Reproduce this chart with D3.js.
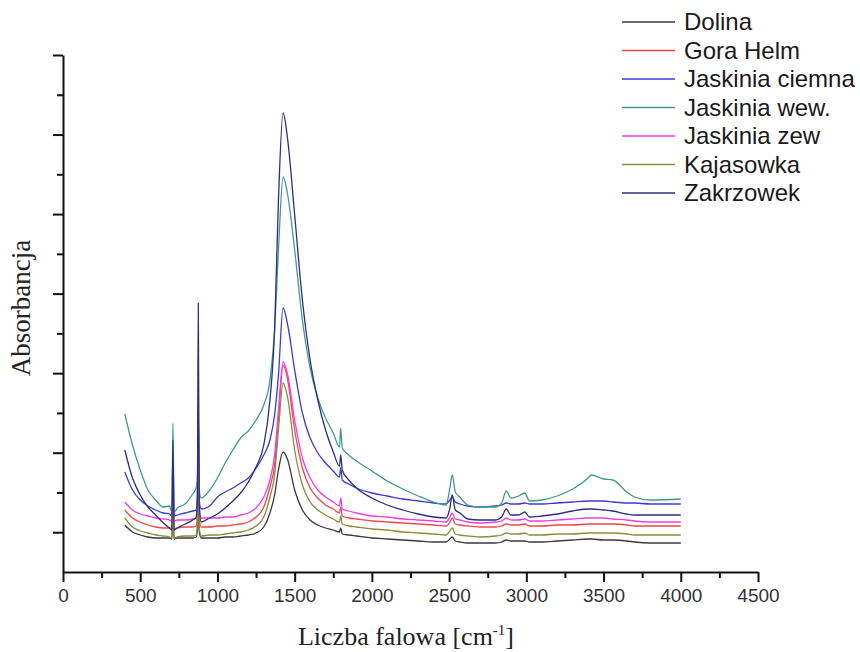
<!DOCTYPE html>
<html lang="en">
<head>
<meta charset="utf-8">
<title>Widma FTIR</title>
<script src="https://d3js.org/d3.v7.js"></script>
<style>
  body { margin: 0; background: #fff; }
  .tick text { font-family: "Liberation Sans", Arial, sans-serif; }
</style>
</head>
<body>
<svg></svg>
<script>
  // wavenumbers shared by all spectra [cm-1]
  const wavenumber = [400, 450, 500, 550, 600, 650, 690, 705, 712, 719,
    740, 790, 840, 862, 870, 876, 882, 895, 950, 1000,
    1050, 1100, 1150, 1200, 1250, 1300, 1340, 1370, 1395, 1425,
    1455, 1500, 1550, 1600, 1650, 1700, 1750, 1790, 1798, 1808,
    1850, 1900, 2000, 2100, 2200, 2300, 2400, 2480, 2505, 2520,
    2540, 2570, 2620, 2700, 2800, 2840, 2870, 2900, 2950, 2990,
    3020, 3100, 3200, 3300, 3400, 3420, 3500, 3560, 3650, 3700,
    3800, 4000];

  // absorbance (arbitrary units, no scale printed on the chart)
  const dolina = [.047, .040, .037, .035, .034, .034, .034, .033, .067, .033,
    .034, .034, .034, .035, .042, .092, .040, .034, .034, .034,
    .035, .035, .036, .037, .039, .045, .059, .077, .102, .120,
    .112, .082, .062, .052, .047, .044, .042, .040, .044, .038,
    .037, .036, .034, .033, .032, .031, .030, .030, .033, .035,
    .031, .030, .029, .029, .029, .030, .032, .031, .031, .031,
    .030, .030, .031, .032, .033, .033, .032, .032, .031, .030,
    .029, .029];
  const goraHelm = [.062, .054, .050, .047, .045, .044, .044, .043, .082, .043,
    .044, .045, .045, .046, .057, .117, .055, .045, .045, .046,
    .046, .047, .048, .050, .055, .065, .085, .107, .152, .207,
    .192, .142, .104, .084, .074, .067, .063, .059, .065, .056,
    .054, .053, .051, .050, .049, .048, .047, .046, .050, .054,
    .048, .047, .046, .045, .045, .046, .048, .047, .047, .048,
    .046, .046, .047, .047, .048, .048, .048, .048, .047, .046,
    .046, .046];
  const jaskiniaCiemna = [.100, .082, .072, .066, .062, .059, .058, .056, .122, .056,
    .057, .059, .061, .062, .077, .167, .072, .063, .066, .075,
    .080, .084, .089, .094, .104, .117, .132, .157, .197, .264,
    .247, .202, .159, .134, .119, .109, .101, .095, .104, .092,
    .088, .084, .079, .076, .073, .071, .069, .068, .072, .075,
    .070, .068, .066, .065, .066, .067, .069, .068, .068, .069,
    .068, .068, .069, .070, .071, .071, .071, .070, .069, .069,
    .068, .068];
  const jaskiniaWew = [.158, .127, .102, .082, .072, .065, .066, .060, .149, .060,
    .064, .068, .078, .084, .092, .152, .082, .074, .082, .094,
    .109, .122, .134, .141, .152, .167, .192, .242, .322, .395,
    .377, .322, .252, .204, .174, .154, .139, .125, .144, .124,
    .117, .111, .101, .091, .083, .076, .070, .067, .084, .097,
    .080, .075, .067, .065, .065, .069, .081, .074, .076, .079,
    .071, .072, .076, .083, .094, .097, .093, .092, .080, .075,
    .072, .073];
  const jaskiniaZew = [.070, .062, .058, .056, .054, .053, .052, .051, .092, .051,
    .052, .052, .053, .054, .067, .127, .064, .054, .054, .054,
    .055, .055, .057, .059, .064, .075, .092, .117, .162, .210,
    .197, .152, .114, .094, .082, .075, .070, .066, .074, .063,
    .061, .059, .056, .055, .053, .052, .051, .050, .055, .059,
    .053, .052, .050, .049, .050, .051, .054, .052, .052, .053,
    .051, .051, .052, .053, .054, .054, .054, .053, .052, .051,
    .050, .050];
  const kajasowka = [.054, .045, .041, .039, .037, .036, .035, .034, .072, .034,
    .035, .036, .036, .037, .047, .102, .045, .036, .037, .037,
    .038, .039, .040, .042, .046, .055, .075, .097, .142, .189,
    .174, .122, .087, .070, .062, .057, .053, .050, .056, .048,
    .046, .045, .043, .042, .040, .039, .038, .037, .041, .044,
    .038, .037, .036, .035, .036, .037, .039, .038, .038, .039,
    .037, .037, .038, .038, .039, .039, .039, .039, .038, .037,
    .037, .037];
  const zakrzowek = [.122, .094, .077, .065, .057, .049, .044, .042, .132, .042,
    .044, .048, .052, .055, .072, .269, .067, .050, .054, .058,
    .064, .071, .079, .090, .105, .127, .172, .242, .372, .459,
    .432, .357, .272, .212, .172, .142, .120, .106, .117, .102,
    .092, .084, .074, .067, .062, .058, .055, .054, .064, .077,
    .062, .059, .053, .052, .052, .055, .063, .057, .057, .060,
    .055, .056, .058, .061, .063, .063, .062, .061, .058, .057,
    .057, .057];

  const names = ["Dolina", "Gora Helm", "Jaskinia ciemna", "Jaskinia wew.",
    "Jaskinia zew", "Kajasowka", "Zakrzowek"];
  const values = [dolina, goraHelm, jaskiniaCiemna, jaskiniaWew,
    jaskiniaZew, kajasowka, zakrzowek];
  const colors = ["#3a3a3a", "#f0484a", "#3b3bd0", "#3f9a92",
    "#f03cf0", "#8c8c3c", "#2e2e80"];

  const xTicks = d3.range(0, 4501, 500);
  const yMax = 0.517;

  const w = 860;
  const h = 652;
  const margin = {top: 55, right: 102, bottom: 80, left: 63};

  const svg = d3.select("svg")
      .attr("width", w)
      .attr("height", h)
      .style("display", "block");

  const x = d3.scaleLinear()
      .domain([0, 4500])
      .range([margin.left, w - margin.right]);

  const y = d3.scaleLinear()
      .domain([0, yMax])
      .range([h - margin.bottom, margin.top]);

  // spectra
  const line = d3.line()
      .x(d => x(d[0]))
      .y(d => y(d[1]))
      .curve(d3.curveMonotoneX);

  const series = names.map((n, i) => ({
    name: n,
    color: colors[i],
    points: wavenumber.map((wn, j) => [wn, values[i][j]])
  }));

  svg.append("g")
    .selectAll("path")
    .data(series)
    .join("path")
      .attr("d", d => line(d.points))
      .attr("fill", "none")
      .attr("stroke", d => d.color)
      .attr("stroke-width", 1.3)
      .attr("stroke-linejoin", "round");

  // axes
  const yTickAll = d3.range(0, 14).map(i => i * yMax / 13);
  const yMajor = yTickAll.filter((d, i) => i % 2 == 1);
  const yMinor = yTickAll.filter((d, i) => i % 2 == 0 && i > 0);

  const gx = svg.append("g")
      .attr("transform", `translate(0,${y(0)})`)
      .call(d3.axisBottom(x).tickValues(xTicks).tickFormat(d3.format("d"))
        .tickSize(10).tickSizeOuter(0).tickPadding(7));
  svg.append("g")
      .attr("transform", `translate(0,${y(0)})`)
      .call(d3.axisBottom(x).tickValues(d3.range(250, 4500, 500)).tickSize(6).tickFormat(""))
      .call(g => g.select(".domain").remove());

  svg.append("g")
      .attr("transform", `translate(${x(0)},0)`)
      .call(d3.axisLeft(y).tickValues(yMajor).tickSize(10).tickSizeOuter(0).tickFormat(""));
  svg.append("g")
      .attr("transform", `translate(${x(0)},0)`)
      .call(d3.axisLeft(y).tickValues(yMinor).tickSize(6).tickFormat(""))
      .call(g => g.select(".domain").remove());

  svg.selectAll(".domain, .tick line")
      .attr("stroke", "#111")
      .attr("stroke-width", 2);

  gx.selectAll(".tick text")
      .attr("font-size", 19)
      .attr("fill", "#333");

  // axis titles
  const xTitle = svg.append("text")
      .attr("x", 406)
      .attr("y", 645)
      .attr("text-anchor", "middle")
      .attr("font-family", "'Liberation Serif', 'Times New Roman', serif")
      .attr("font-size", 26)
      .attr("fill", "#222")
      .text("Liczba falowa [cm");
  xTitle.append("tspan")
      .attr("font-size", 15)
      .attr("dy", -10)
      .text("-1");
  xTitle.append("tspan")
      .attr("dy", 10)
      .text("]");

  svg.append("text")
      .attr("transform", "translate(30,308) rotate(-90)")
      .attr("text-anchor", "middle")
      .attr("font-family", "'Liberation Serif', 'Times New Roman', serif")
      .attr("font-size", 27)
      .attr("fill", "#222")
      .text("Absorbancja");

  // legend
  const legend = svg.append("g")
      .attr("transform", "translate(622,22)");

  const item = legend.selectAll("g")
    .data(series)
    .join("g")
      .attr("transform", (d, i) => `translate(0,${i * 28.5})`);

  item.append("line")
      .attr("x1", 0)
      .attr("x2", 53)
      .attr("stroke", d => d.color)
      .attr("stroke-width", 1.5);

  item.append("text")
      .attr("x", 62)
      .attr("dy", "0.35em")
      .attr("font-family", "'Liberation Sans', Arial, sans-serif")
      .attr("font-size", 24)
      .attr("fill", "#1a1a1a")
      .text(d => d.name);
</script>
</body>
</html>
